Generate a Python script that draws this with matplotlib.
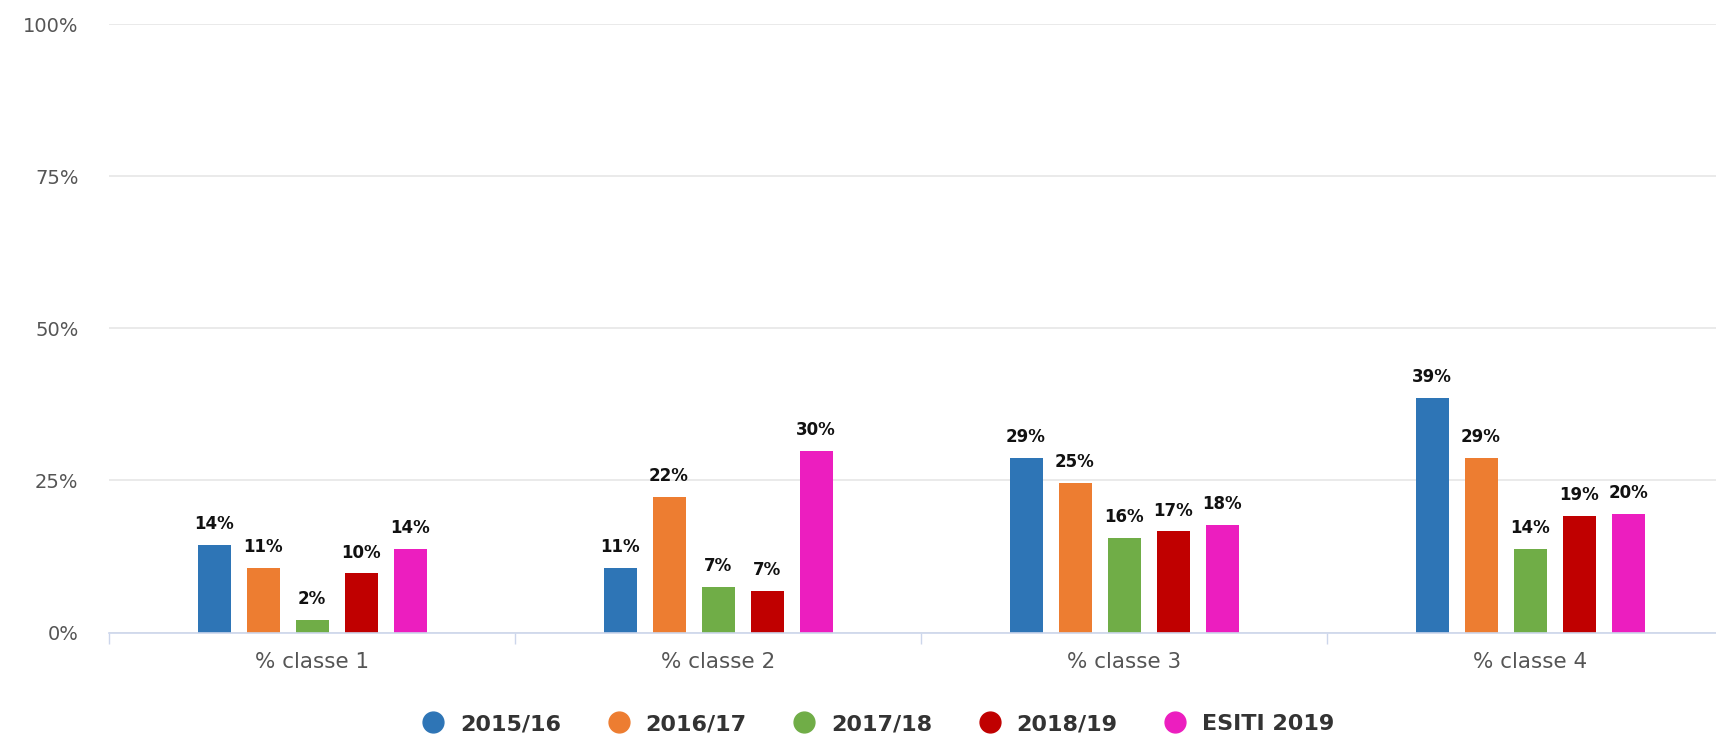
import matplotlib
matplotlib.use("Agg")
import matplotlib.pyplot as plt
import numpy as np

categories = ["% classe 1", "% classe 2", "% classe 3", "% classe 4"]
series_names = ["2015/16", "2016/17", "2017/18", "2018/19", "ESITI 2019"]
v_2015 = [14.4, 10.6, 28.6, 38.6]
v_2016 = [10.6, 22.3, 24.6, 28.6]
v_2017 = [2.0, 7.4, 15.6, 13.8]
v_2018 = [9.7, 6.8, 16.6, 19.2]
v_esiti = [13.8, 29.8, 17.6, 19.5]
series_values = [v_2015, v_2016, v_2017, v_2018, v_esiti]
colors = ["#2e75b6", "#ed7d31", "#70ad47", "#c00000", "#ec1ebf"]
y_ticks = [0, 25, 50, 75, 100]

plt.rcParams['font.family'] = ['DejaVu Sans']

fig = plt.figure(figsize=(17.16, 7.38), dpi=100)
ax = fig.add_axes([109/1716, 1 - 632.5/738, 1624/1716, 608.5/738])

x = np.arange(len(categories))
n = len(series_names)
spacing = 49/406
width = 33/406
for i, (name, vals, c) in enumerate(zip(series_names, series_values, colors)):
    pos = x + (i - (n - 1) / 2) * spacing
    bars = ax.bar(pos, vals, width=width, color=c, label=name, zorder=3)
    for b, v in zip(bars, vals):
        ax.annotate(f"{int(round(v))}%", (b.get_x() + b.get_width() / 2, v),
                    xytext=(0, 11.5), textcoords="offset points", ha="center", va="baseline",
                    fontsize=12, fontweight="bold", color="#111111", zorder=4)

ax.set_xlim(-0.5, len(categories) - 0.5)
ax.set_ylim(0, 100)
ax.set_yticks(y_ticks)
ax.set_yticklabels([f"{t}%" for t in y_ticks], color="#555555", fontsize=14)
ax.yaxis.grid(True, color="#e8e8e8", linewidth=1.3, zorder=0)
ax.tick_params(axis="y", length=0, pad=22)

ax.set_xticks(x)
ax.set_xticklabels(categories, color="#555555", fontsize=15.5)
ax.set_xticks(np.arange(len(categories) + 1) - 0.5, minor=True)
ax.tick_params(axis="x", which="major", length=0, pad=14)
ax.tick_params(axis="x", which="minor", length=8, color="#ccd6eb", width=1)

for s in ["top", "right", "left"]:
    ax.spines[s].set_visible(False)
ax.spines["bottom"].set_color("#ccd6eb")
ax.spines["bottom"].set_linewidth(1.2)
ax.spines["bottom"].set_zorder(5)

handles = [plt.Line2D([], [], marker="o", linestyle="", markersize=15,
                      markerfacecolor=c, markeredgecolor=c) for c in colors]
leg = fig.legend(handles, series_names, loc="center", bbox_to_anchor=(878/1716, 1 - 724/738),
                 ncol=5, frameon=False, handlelength=1.0, handletextpad=0.7, columnspacing=2.1,
                 prop={"family": "DejaVu Sans", "weight": "bold", "size": 16})
for t in leg.get_texts():
    t.set_color("#333333")

fig.savefig("out.png", dpi=100)
